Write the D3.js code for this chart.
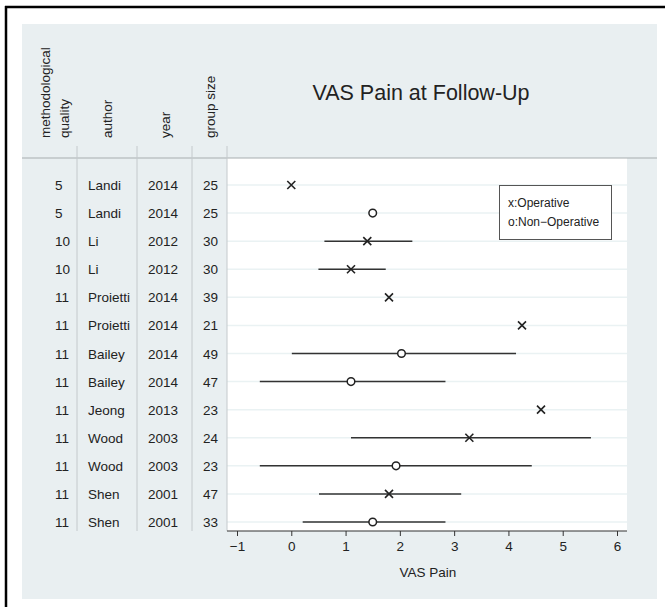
<!DOCTYPE html>
<html>
<head>
<meta charset="utf-8">
<script src="https://cdn.jsdelivr.net/npm/d3@7"></script>
<style>
  body { margin: 0; background: #fff; }
  svg text { font-family: "Liberation Sans", Arial, sans-serif; fill: #222; }
</style>
</head>
<body>
<div id="chart"></div>
<script>
// study table
const quality = [5, 5, 10, 10, 11, 11, 11, 11, 11, 11, 11, 11, 11];
const authors = ["Landi", "Landi", "Li", "Li", "Proietti", "Proietti", "Bailey", "Bailey", "Jeong", "Wood", "Wood", "Shen", "Shen"];
const years = [2014, 2014, 2012, 2012, 2014, 2014, 2014, 2014, 2013, 2003, 2003, 2001, 2001];
const groupSizes = [25, 25, 30, 30, 39, 21, 49, 47, 23, 24, 23, 47, 33];
// x = operative, o = non-operative
const groups = ["x", "o", "x", "x", "x", "x", "o", "o", "x", "x", "o", "x", "o"];
const means = [0.0, 1.5, 1.4, 1.1, 1.8, 4.25, 2.03, 1.1, 4.6, 3.28, 1.93, 1.8, 1.5];
const ciLow = [null, null, 0.61, 0.5, null, null, 0.01, -0.58, null, 1.1, -0.58, 0.51, 0.21];
const ciHigh = [null, null, 2.23, 1.74, null, null, 4.14, 2.84, null, 5.52, 4.43, 3.13, 2.84];
const xTicks = [-1, 0, 1, 2, 3, 4, 5, 6];
const headers = [["methodological", "quality"], ["author"], ["year"], ["group size"]];
const legendItems = ["x:Operative", "o:Non\u2212Operative"];

const ctx = {
    w: 665, h: 611,
    bgLeft: 22, bgTop: 24, bgRight: 657, bgBottom: 599,
    plotLeft: 227, plotRight: 627, plotTop: 158, plotBottom: 531
};

const svg = d3.select("#chart").append("svg")
    .attr("width", ctx.w)
    .attr("height", ctx.h);

// frame (top and left edges visible)
svg.append("line").attr("x1", 5).attr("x2", 665).attr("y1", 7).attr("y2", 7)
    .attr("stroke", "#000").attr("stroke-width", 2.5);
svg.append("line").attr("x1", 6).attr("x2", 6).attr("y1", 6).attr("y2", 607)
    .attr("stroke", "#000").attr("stroke-width", 2.5);

// gray graph region
svg.append("rect")
    .attr("x", ctx.bgLeft).attr("y", ctx.bgTop)
    .attr("width", ctx.bgRight - ctx.bgLeft).attr("height", ctx.bgBottom - ctx.bgTop)
    .attr("fill", "#e9eff1");

// white plot region
svg.append("rect")
    .attr("x", ctx.plotLeft).attr("y", ctx.plotTop)
    .attr("width", ctx.plotRight - ctx.plotLeft).attr("height", ctx.plotBottom - ctx.plotTop)
    .attr("fill", "#fff");

const rows = d3.range(authors.length);
const y = d3.scalePoint().domain(rows).range([185, 522]);
const x = d3.scaleLinear().domain([-1, 6]).range([237, 617]);

// gridlines at each row
svg.append("g").selectAll("line")
    .data(rows)
    .join("line")
    .attr("x1", ctx.plotLeft).attr("x2", ctx.plotRight)
    .attr("y1", d => y(d)).attr("y2", d => y(d))
    .attr("stroke", "#eaf2f3").attr("stroke-width", 1.5);

// header separator
svg.append("line")
    .attr("x1", ctx.bgLeft).attr("x2", ctx.bgRight)
    .attr("y1", ctx.plotTop).attr("y2", ctx.plotTop)
    .attr("stroke", "#a8adb0").attr("stroke-width", 1.2);

// table column separators
const colLines = [77, 137, 192, 227];
svg.append("g").selectAll("line")
    .data(colLines)
    .join("line")
    .attr("x1", d => d).attr("x2", d => d)
    .attr("y1", 146).attr("y2", ctx.plotBottom)
    .attr("stroke", "#c4c9cc").attr("stroke-width", 1);

// column headers (rotated)
const headerX = [[45, 64], [107], [165], [210]];
headers.forEach((lines, i) => {
    lines.forEach((t, j) => {
        svg.append("text")
            .attr("transform", `translate(${headerX[i][j] + 5},138) rotate(-90)`)
            .attr("text-anchor", "start")
            .style("font-size", "13.5px")
            .text(t);
    });
});

// table cells
const colX = [55, 88, 148, 203];
const cols = [quality, authors, years, groupSizes];
cols.forEach((vals, c) => {
    svg.append("g").selectAll("text")
        .data(rows)
        .join("text")
        .attr("x", colX[c])
        .attr("y", d => y(d) + 5)
        .style("font-size", "13.5px")
        .text(d => vals[d]);
});

// title
svg.append("text")
    .attr("x", 421).attr("y", 100)
    .attr("text-anchor", "middle")
    .style("font-size", "21.5px")
    .text("VAS Pain at Follow-Up");

// x axis
const xAxis = svg.append("g")
    .attr("transform", `translate(0,${ctx.plotBottom})`)
    .call(d3.axisBottom(x).tickValues(xTicks).tickFormat(d3.format("d"))
        .tickSize(5).tickPadding(5).tickSizeOuter(0));
xAxis.select(".domain").attr("d", `M${ctx.plotLeft},0H${ctx.plotRight}`).attr("stroke", "#333").attr("stroke-width", 1.2);
xAxis.selectAll(".tick line").attr("stroke", "#333");
xAxis.selectAll(".tick text").style("font-size", "13.5px").style("font-family", "'Liberation Sans', Arial, sans-serif").attr("fill", "#222");

svg.append("text")
    .attr("x", 428).attr("y", 577)
    .attr("text-anchor", "middle")
    .style("font-size", "13.5px")
    .text("VAS Pain");

// confidence intervals
svg.append("g").selectAll("line")
    .data(rows.filter(i => ciLow[i] !== null))
    .join("line")
    .attr("x1", d => x(ciLow[d])).attr("x2", d => x(ciHigh[d]))
    .attr("y1", d => y(d)).attr("y2", d => y(d))
    .attr("stroke", "#333").attr("stroke-width", 1.5);

// markers
const marks = svg.append("g");
rows.forEach(i => {
    const cx = x(means[i]), cy = y(i);
    if (groups[i] === "o") {
        marks.append("circle")
            .attr("cx", cx).attr("cy", cy).attr("r", 3.8)
            .attr("fill", "#fff").attr("stroke", "#222").attr("stroke-width", 1.5);
    } else {
        const s = 4;
        marks.append("path")
            .attr("d", `M${cx - s},${cy - s}L${cx + s},${cy + s}M${cx - s},${cy + s}L${cx + s},${cy - s}`)
            .attr("stroke", "#222").attr("stroke-width", 1.6).attr("fill", "none");
    }
});

// legend
const legend = svg.append("g");
legend.append("rect")
    .attr("x", 499.5).attr("y", 185.5).attr("width", 112).attr("height", 54)
    .attr("fill", "#fff").attr("stroke", "#555").attr("stroke-width", 1);
legend.selectAll("text")
    .data(legendItems)
    .join("text")
    .attr("x", 508).attr("y", (d, i) => 207 + i * 19)
    .style("font-size", "12px")
    .text(d => d);
</script>
</body>
</html>
